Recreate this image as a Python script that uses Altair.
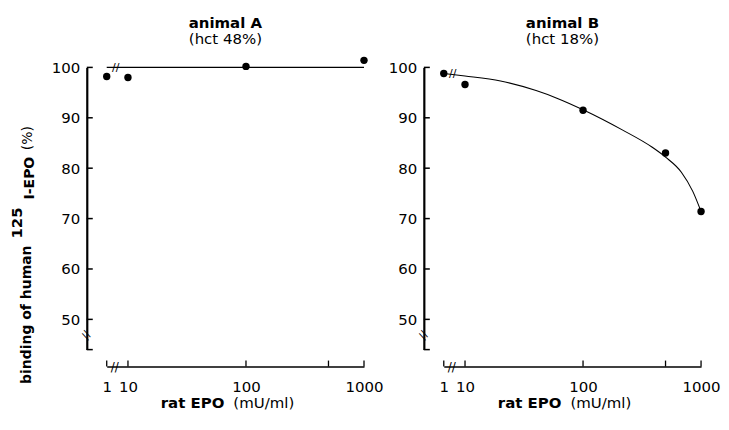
import altair as alt
import pandas as pd

# ---------------- data ----------------
a_x = [1, 10, 100, 1000]
a_y = [98.2, 98.0, 100.2, 101.4]
a_line_x = [1, 1000]
a_line_y = [100, 100]

b_x = [1, 10, 100, 500, 1000]
b_y = [98.8, 96.6, 91.5, 83.0, 71.4]
b_curve_x = [1, 10, 20, 40, 60, 100, 215, 383, 500, 681, 851, 1000]
b_curve_y = [98.8, 98.3, 97.3, 95.4, 93.9, 91.6, 87.6, 84.2, 82.2, 79.2, 75.4, 71.4]

x_tick_values = [1, 10, 100, 500, 1000]
x_label_pos = [0.82, 1, 2, 3]
y_tick_values = [44, 50, 60, 70, 80, 90, 100]
y_label_values = [50, 60, 70, 80, 90, 100]

W, H = 258, 283
XOFF = 17
FONT = "DejaVu Sans"
POS = "datum.x <= 1 ? 0.82 : log(datum.x) / LN10"

xscale = alt.Scale(domain=[0.82, 3.0], nice=False, zero=False)
yscale = alt.Scale(domain=[44, 100], nice=False, zero=False)


def xaxis():
    return alt.Axis(values=x_label_pos, ticks=False, grid=False, title=None, offset=XOFF,
                    domainColor="black", domainWidth=1.5, labelColor="black",
                    labelFont=FONT, labelFontSize=15, labelPadding=13,
                    labelFlush=False, labelOverlap=False,
                    labelExpr="datum.value < 0.9 ? '1' : format(pow(10, datum.value), 'd')")


def yaxis():
    return alt.Axis(values=y_label_values, ticks=False, grid=False, title=None, offset=20,
                    domainColor="black", domainWidth=2.2, labelColor="black",
                    labelFont=FONT, labelFontSize=15, labelPadding=7)


def X(field):
    return alt.X(field, type="quantitative", scale=xscale, axis=xaxis())


def Y(field):
    return alt.Y(field, type="quantitative", scale=yscale, axis=yaxis())


def txt(s, x, y, size=15, weight="normal", align="center", angle=0, baseline="alphabetic"):
    return alt.Chart(pd.DataFrame({"t": [s]})).mark_text(
        font=FONT, fontSize=size, fontWeight=weight, align=align, angle=angle,
        baseline=baseline, color="black"
    ).encode(text="t:N", x=alt.value(x), y=alt.value(y))


def brk(x, ydatum, size=11, angle=0):
    return alt.Chart(pd.DataFrame({"t": ["//"]})).mark_text(
        font=FONT, fontSize=size, align="center", baseline="middle", angle=angle, color="black"
    ).encode(text="t:N", x=alt.value(x), y=alt.Y(datum=ydatum, type="quantitative", scale=yscale, axis=yaxis()))


def panel(px, py, lx, ly, title, subtitle, ytitle):
    pts = alt.Chart(pd.DataFrame({"x": px, "y": py})).transform_calculate(pos=POS).mark_circle(
        size=55, color="black", opacity=1).encode(x=X("pos"), y=Y("y"))
    line = alt.Chart(pd.DataFrame({"x": lx, "y": ly})).transform_calculate(pos=POS).mark_line(
        color="black", strokeWidth=1.1, interpolate="monotone").encode(x=X("pos"), y=Y("y"))
    yt = alt.Chart(pd.DataFrame({"v": y_tick_values})).mark_rule(color="black", strokeWidth=1.5).encode(
        y=Y("v"), x=alt.value(-20), x2=alt.value(-14))
    xt = alt.Chart(pd.DataFrame({"x": x_tick_values})).transform_calculate(pos=POS).mark_rule(
        color="black", strokeWidth=1.3).encode(x=X("pos"), y=alt.value(H + XOFF), y2=alt.value(H + XOFF - 6))
    cx = (W - 20) / 2
    layers = [line, pts, yt, xt,
              txt("//", 8, H + XOFF + 4, size=12),
              brk(9, ly[0] - 0.1, size=11),
              brk(-20, 46.8, size=11, angle=300),
              txt(title, cx, -40, size=15, weight="bold"),
              txt(subtitle, cx, -23, size=15),
              txt("rat EPO", cx - 1, H + 59, size=15, weight="bold", align="right"),
              txt("(mU/ml)", cx + 8, H + 59, size=15, align="left")]
    if ytitle:
        layers += [
            txt("binding of human", -80, 248, size=14, weight="bold", angle=270, baseline="middle"),
            txt("125", -90, 156, size=15, weight="bold", angle=270, baseline="middle"),
            txt("I-EPO", -77, 111, size=14, weight="bold", angle=270, baseline="middle"),
            txt("(%)", -79, 71, size=14, angle=270, baseline="middle"),
        ]
    return alt.layer(*layers).properties(width=W, height=H)


pa = panel(a_x, a_y, a_line_x, a_line_y, "animal A", "(hct 48%)", True)
pb = panel(b_x, b_y, b_curve_x, b_curve_y, "animal B", "(hct 18%)", False)

chart = alt.hconcat(pa, pb, spacing=4).properties(
    padding={"left": 2, "top": 7, "right": 0, "bottom": 0},
    background="white",
).configure_view(stroke=None)

chart.save("out.html", embed_options={"renderer": "svg", "actions": False})
